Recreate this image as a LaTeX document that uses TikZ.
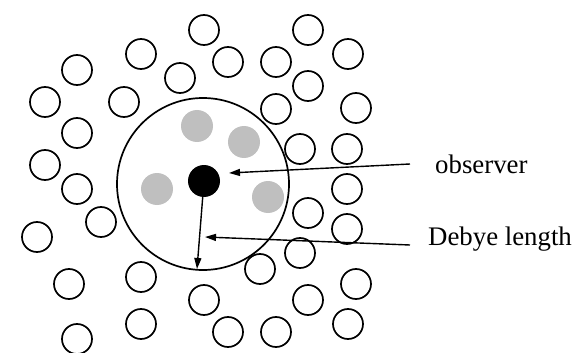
\documentclass[tikz,border=0pt]{standalone}
\usepackage{fontspec}
\setmainfont{Liberation Serif}
\usetikzlibrary{arrows.meta}
\tikzset{
  particle/.style={circle,draw=black,line width=1.7pt,minimum size=30pt,inner sep=0pt},
  ion/.style={circle,fill=black!25,minimum size=32pt,inner sep=0pt},
  probe/.style={circle,fill=black,minimum size=32pt,inner sep=0pt},
  sphere/.style={circle,draw=black,line width=1.7pt,minimum size=172pt,inner sep=0pt},
  pointer/.style={line width=1.4pt,-{Triangle[length=11pt,width=7pt]}},
  caption/.style={anchor=base west,inner sep=0pt,font=\fontsize{26.8}{30}\selectfont}
}
\begin{document}
\begin{tikzpicture}[x=1pt,y=-1pt]
\useasboundingbox (0,0) rectangle (579,353);
% Debye sphere with the charges inside it
\node[sphere] (sph) at (203,184) {};
\node[ion] (g1) at (197,126) {};
\node[ion] (g2) at (244,142) {};
\node[ion] (g3) at (157,189) {};
\node[ion] (g4) at (268,197) {};
\node[probe] (obs) at (204,181) {};
% surrounding particles
\foreach \n/\px/\py in {
  p1/204/30, p2/308/30, p3/141/54, p4/348/54, p5/77/70, p6/228/62,
  p7/276/62, p8/180/78, p9/308/86, p10/45/102, p11/124/102, p12/276/109,
  p13/356/108, p14/77/133, p15/300/149, p16/347/149, p17/45/165, p18/77/189,
  p19/347/189, p20/101/222, p21/308/213, p22/37/237, p23/347/229, p24/300/253,
  p25/260/269, p26/69/284, p27/141/277, p28/356/284, p29/204/300, p30/308/300,
  p31/141/324, p32/348/324, p33/77/339, p34/228/332, p35/276/332}
  \node[particle] (\n) at (\px,\py) {};
% labels and pointers
\node[caption] (lobs) at (435,173) {observer};
\node[caption] (ldeb) at (428,245) {Debye length};
\coordinate (obsfrom) at (410,164);
\coordinate (obsto) at (229,173);
\coordinate (debfrom) at (410,245);
\coordinate (debto) at (205,237);
\coordinate (rim) at (197,269);
\draw[pointer] (obsfrom) -- (obsto);
\draw[pointer] (debfrom) -- (debto);
\draw[pointer] (obs) -- (rim);
\end{tikzpicture}
\end{document}
